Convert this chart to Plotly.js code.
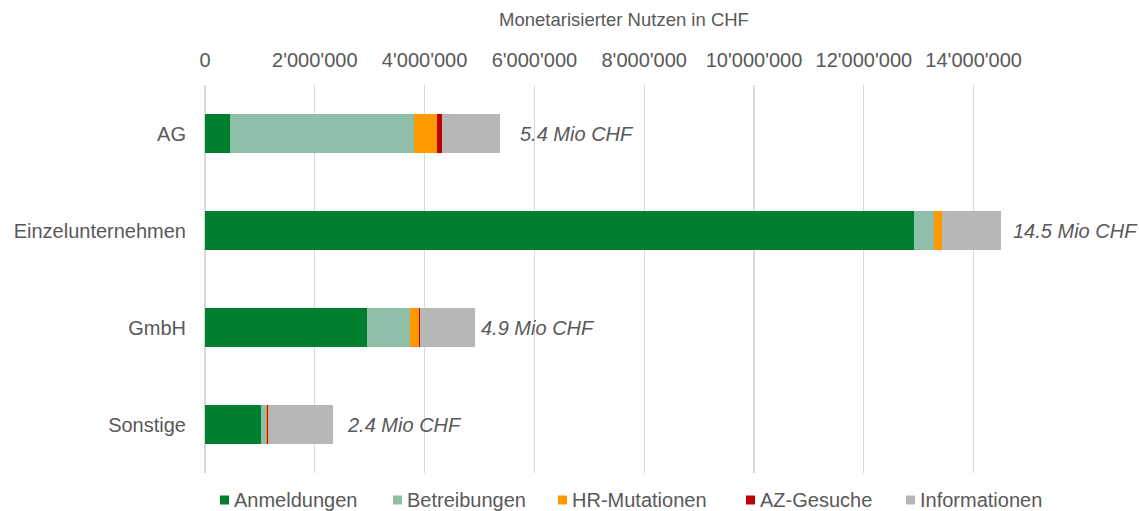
<!DOCTYPE html>
<html>
<head>
<meta charset="utf-8">
<script src="https://cdn.plot.ly/plotly-3.0.1.min.js"></script>
<style>html,body{margin:0;padding:0;background:#fff;}#chart{width:1139px;height:511px;}</style>
</head>
<body>
<div id="chart"></div>
<script>
const categories = ['AG', 'Einzelunternehmen', 'GmbH', 'Sonstige'];
const anmeldungen   = [460000, 12910000, 2950000, 1020000];
const betreibungen  = [3350000, 360000, 790000, 90000];
const hrMutationen  = [410000, 150000, 160000, 20000];
const azGesuche     = [90000, 10000, 20000, 15000];
const informationen = [1060000, 1060000, 1000000, 1190000];
const totalLabels   = ['5.4 Mio CHF', '14.5 Mio CHF', '4.9 Mio CHF', '2.4 Mio CHF'];
const tickValues    = [0, 2000000, 4000000, 6000000, 8000000, 10000000, 12000000, 14000000];
const tickLabels    = ['0', "2'000'000", "4'000'000", "6'000'000", "8'000'000", "10'000'000", "12'000'000", "14'000'000"];

const seriesNames  = ['Anmeldungen', 'Betreibungen', 'HR-Mutationen', 'AZ-Gesuche', 'Informationen'];
const seriesValues = [anmeldungen, betreibungen, hrMutationen, azGesuche, informationen];
const seriesColors = ['#007F2F', '#8FBFA8', '#FF9900', '#C00000', '#B7B7B7'];

const textColor = '#595959';
const fontFamily = '"Liberation Sans", Arial, sans-serif';

// plot-area geometry (pixels)
const W = 1139, H = 511;
const M = { l: 205, r: 83, t: 85, b: 38 };
const plotW = W - M.l - M.r, plotH = H - M.t - M.b;
const px2paperX = px => (px - M.l) / plotW;
const px2paperY = py => (H - M.b - py) / plotH;

const traces = seriesNames.map((name, i) => ({
  type: 'bar',
  orientation: 'h',
  name: name,
  y: categories,
  x: seriesValues[i],
  marker: { color: seriesColors[i], line: { width: 0 } },
  hoverinfo: 'x+name'
}));

const totals = categories.map((c, j) => seriesValues.reduce((s, arr) => s + arr[j], 0));
const labelShifts = [18, 10, 4, 12];
const annotations = categories.map((c, j) => ({
  x: totals[j], y: c, xref: 'x', yref: 'y',
  text: totalLabels[j], showarrow: false,
  xanchor: 'left', yanchor: 'middle', xshift: labelShifts[j],
  font: { family: fontFamily, size: 20, color: textColor, style: 'italic' }
}));

// custom legend (bottom)
const legendLeft = [220, 393, 558, 746, 906];
const legendY = 500, sq = 9;
const shapes = [];
seriesNames.forEach((name, i) => {
  shapes.push({
    type: 'rect', xref: 'paper', yref: 'paper',
    x0: px2paperX(legendLeft[i]), x1: px2paperX(legendLeft[i] + sq),
    y0: px2paperY(legendY - sq / 2), y1: px2paperY(legendY + sq / 2),
    fillcolor: seriesColors[i], line: { width: 0 }
  });
  annotations.push({
    xref: 'paper', yref: 'paper',
    x: px2paperX(legendLeft[i] + sq + 3), y: px2paperY(legendY),
    xanchor: 'left', yanchor: 'middle', showarrow: false,
    text: name,
    font: { family: fontFamily, size: 20, color: textColor }
  });
});

const layout = {
  width: W, height: H,
  margin: { l: M.l, r: M.r, t: M.t, b: M.b, pad: 0, autoexpand: false },
  paper_bgcolor: '#ffffff', plot_bgcolor: '#ffffff',
  barmode: 'stack',
  bargap: 0.6,
  font: { family: fontFamily, size: 20, color: textColor },
  title: {
    text: 'Monetarisierter Nutzen in CHF',
    font: { family: fontFamily, size: 18.5, color: textColor },
    xref: 'paper', x: px2paperX(624), xanchor: 'center',
    yref: 'container', y: 1 - 20 / H, yanchor: 'middle'
  },
  xaxis: {
    side: 'top',
    range: [0, 15500000],
    tickvals: tickValues,
    ticktext: tickLabels,
    showgrid: true, gridcolor: '#D9D9D9', gridwidth: 1.3,
    zeroline: true, zerolinecolor: '#D9D9D9', zerolinewidth: 1.6,
    showline: false, ticks: '',
    ticklabelstandoff: 13,
    tickfont: { family: fontFamily, size: 20, color: textColor },
    fixedrange: true
  },
  yaxis: {
    autorange: 'reversed',
    showgrid: false, zeroline: false, showline: false,
    ticks: '', ticklabelstandoff: 18,
    tickfont: { family: fontFamily, size: 20, color: textColor },
    fixedrange: true
  },
  showlegend: false,
  annotations: annotations,
  shapes: shapes
};

Plotly.newPlot('chart', traces, layout, { displayModeBar: false, staticPlot: true });
</script>
</body>
</html>
